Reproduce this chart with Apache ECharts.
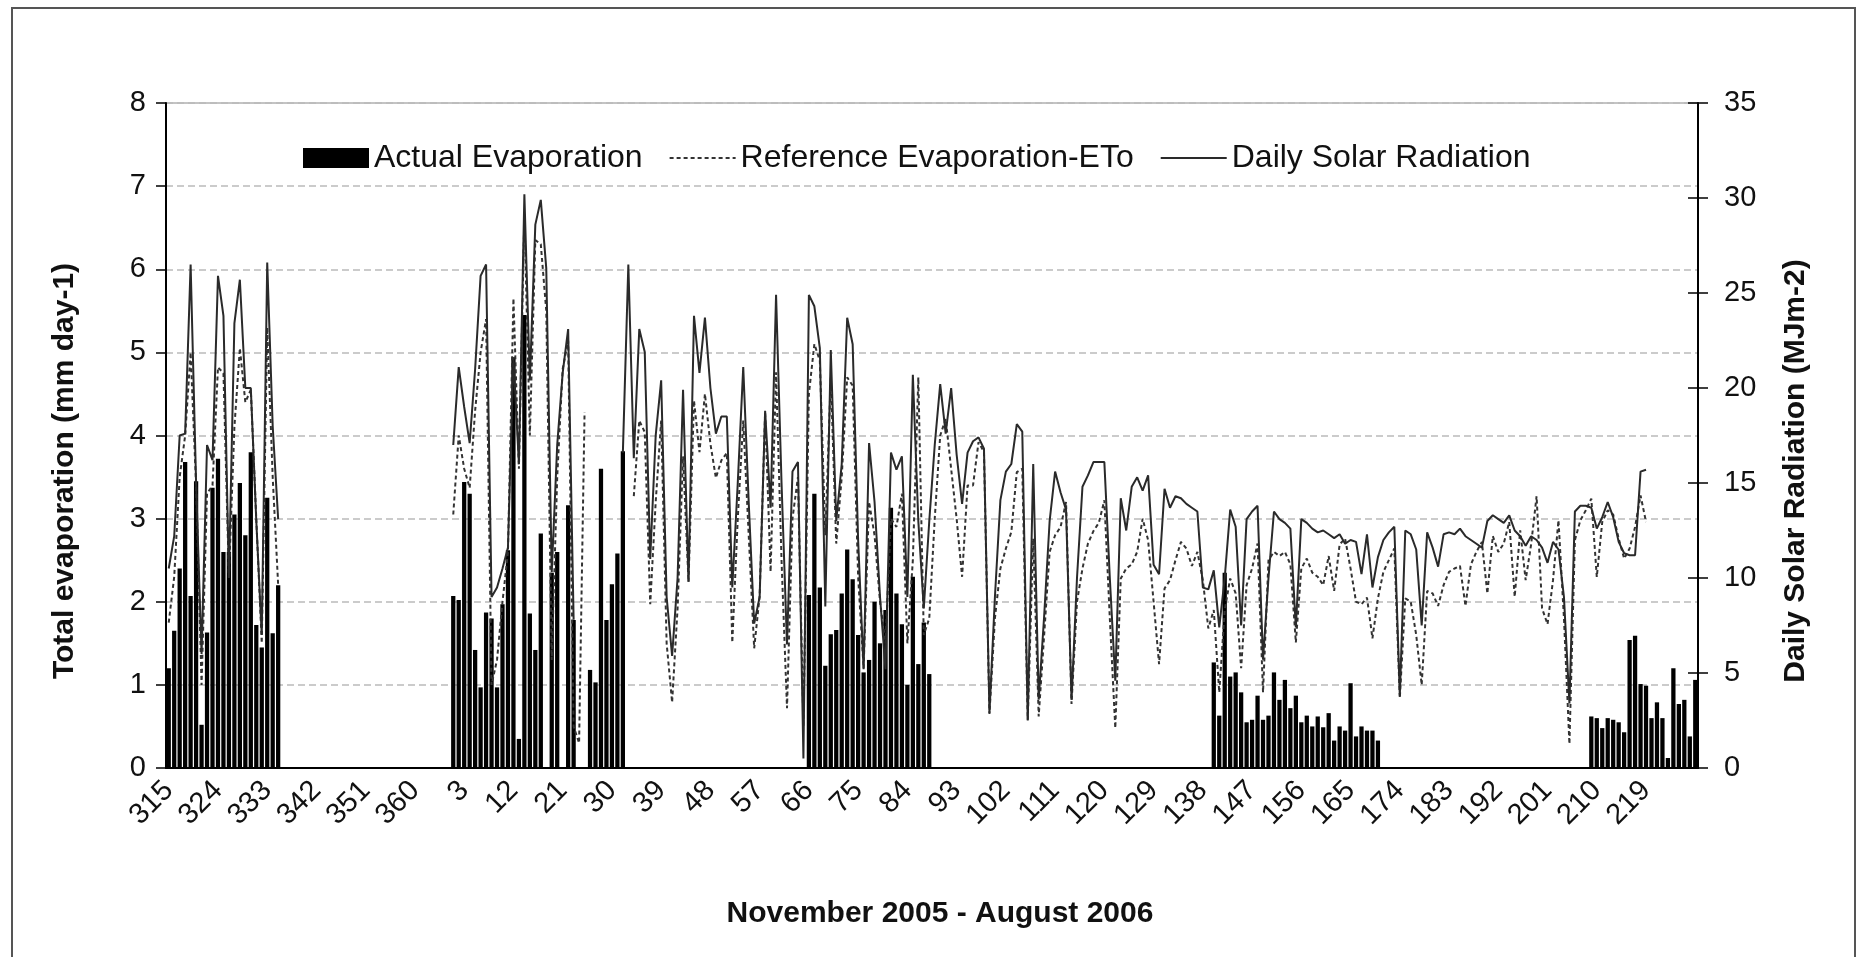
<!DOCTYPE html>
<html>
<head>
<meta charset="utf-8">
<title>Evaporation and solar radiation, Nov 2005 - Aug 2006</title>
<script src="https://cdn.jsdelivr.net/npm/echarts@6/dist/echarts.min.js"></script>
<style>
  html, body { margin: 0; padding: 0; background: #fff; }
  #chart { width: 1862px; height: 957px; }
</style>
</head>
<body>
<div id="chart"></div>
<script>
// day-of-year categories: 2005 days 315-365, then 2006 days 0-228
const firstDay2005 = 315, lastDay2005 = 365, lastDay2006 = 228;
const categories = [];
for (let d = firstDay2005; d <= lastDay2005; d++) categories.push(String(d));
for (let d = 0; d <= lastDay2006; d++) categories.push(String(d));

const evapTicks = { min: 0, max: 8, step: 1 };
const solarTicks = { min: 0, max: 35, step: 5 };

// actual evaporation (mm/day), runs of consecutive days, named by first day
const actualFrom315 = [1.2, 1.65, 2.4, 3.68, 2.07, 3.45, 0.52, 1.63, 3.37, 3.72, 2.6, 2.6, 3.05, 3.43, 2.8, 3.8, 1.72, 1.45, 3.25, 1.62, 2.2];
const actualFrom1 = [2.07, 2.02, 3.44, 3.3, 1.42, 0.97, 1.87, 1.8, 0.97, 1.97, 2.62, 4.94, 0.35, 5.45, 1.86, 1.42, 2.82];
const actualFrom19 = [2.35, 2.6];
const actualFrom22 = [3.16, 1.78];
const actualFrom26 = [1.18, 1.03, 3.6, 1.78, 2.21, 2.58, 3.81];
const actualFrom66 = [2.08, 3.3, 2.17, 1.23, 1.61, 1.66, 2.1, 2.63, 2.27, 1.6, 1.15, 1.3, 2.0, 1.5, 1.9, 3.13, 2.1, 1.73, 1.0, 2.3, 1.25, 1.75, 1.13];
const actualFrom140 = [1.27, 0.63, 2.35, 1.1, 1.15, 0.91, 0.55, 0.58, 0.87, 0.58, 0.63, 1.15, 0.82, 1.06, 0.72, 0.87, 0.55, 0.63, 0.5, 0.62,
  0.49, 0.66, 0.33, 0.5, 0.45, 1.02, 0.38, 0.5, 0.45, 0.45, 0.33];
const actualFrom209 = [0.62, 0.6, 0.48, 0.6, 0.58, 0.55, 0.43, 1.54, 1.59, 1.01, 0.99, 0.6, 0.79, 0.6, 0.12, 1.2, 0.77, 0.82, 0.38, 1.06];

// reference evaporation ETo (mm/day)
const etoFrom315 = [1.75, 2.3, 3.5, 4.0, 5.0, 3.4, 1.0, 3.3, 3.4, 4.82, 4.75, 2.3, 4.1, 5.05, 4.4, 4.55, 3.0, 1.5, 5.3, 3.5, 2.2];
const etoFrom1 = [3.05, 4.0, 3.6, 3.37, 4.3, 5.0, 5.4, 1.0, 1.3, 2.0, 2.6, 5.65, 3.6, 6.66, 4.0, 6.35, 6.3, 5.5, 1.3, 3.5,
  4.8, 5.14, 0.5, 0.3, 4.28];
const etoFrom34 = [
  3.27, 4.18, 4.04, 1.97, 3.2, 4.18, 1.5, 0.79, 1.92, 3.75,
  2.24, 4.42, 3.8, 4.5, 3.9, 3.49, 3.7, 3.79, 1.51, 3.0,
  4.18, 2.8, 1.44, 2.07, 4.28, 2.36, 4.76, 2.5, 0.72, 3.0,
  3.5, 0.5, 4.5, 5.1, 4.9, 2.8, 4.7, 2.7, 3.5, 4.7,
  4.6, 2.3, 1.2, 3.2, 2.8, 2.0, 1.5, 3.0, 2.9, 3.3,
  1.5, 2.5, 4.7, 1.6, 1.8, 3.0, 4.0, 4.2, 3.6, 3.0,
  2.3, 3.4, 3.4, 3.92, 3.8, 0.65, 1.8, 2.4, 2.64, 2.84,
  3.56, 3.6, 0.58, 2.76, 0.62, 1.6, 2.6, 2.8, 2.9, 3.2,
  0.77, 2.0, 2.4, 2.7, 2.85, 2.95, 3.22, 1.8, 0.48, 2.28,
  2.4, 2.45, 2.6, 3.0, 2.74, 2.0, 1.25, 2.16, 2.26, 2.5,
  2.72, 2.64, 2.43, 2.6, 2.26, 1.68, 1.9, 0.91, 1.9, 2.28,
  2.1, 1.2, 2.2, 2.4, 2.7, 0.91, 2.5, 2.6, 2.55, 2.6,
  2.45, 1.51, 2.4, 2.52, 2.35, 2.3, 2.2, 2.55, 2.13, 2.69,
  2.76, 2.4, 2.0, 1.97, 2.05, 1.56, 2.04, 2.36, 2.5, 2.64,
  0.84, 2.04, 2.0, 1.6, 1.0, 2.13, 2.1, 1.95, 2.2, 2.36,
  2.4, 2.43, 1.95, 2.45, 2.6, 2.72, 2.1, 2.79, 2.6, 2.7,
  2.96, 2.06, 2.86, 2.26, 2.69, 3.27, 1.92, 1.73, 2.26, 2.98,
  1.8, 0.29, 2.74, 2.98, 3.1, 3.24, 2.3, 2.96, 3.1, 3.05,
  2.76, 2.52, 2.64, 2.9, 3.28, 2.96
];

// daily solar radiation (MJ m-2)
const solarFrom315 = [10.5, 12.2, 17.5, 17.6, 26.5, 15, 6, 17, 16.2, 25.9, 23.8, 10, 23.4, 25.7, 20, 20, 13, 7, 26.6, 18, 13.1];
const solarFrom1 = [17, 21.1, 19, 17.1, 21, 25.9, 26.5, 9, 9.5, 10.5, 11.6, 21.6, 16, 30.2, 20.4, 28.6, 29.9, 26.3, 10.3, 17,
  20.8, 23.1, 7.8];
const solarFrom32 = [
  16.6, 26.5, 16.3, 23.1, 21.9, 11, 17.5, 20.4, 9, 5.9,
  10, 19.9, 9.8, 23.8, 20.8, 23.7, 20, 17.6, 18.5, 18.5,
  9.5, 15, 21.1, 14, 7.6, 9.0, 18.8, 13.7, 24.9, 15,
  6.5, 15.6, 16.1, 0.5, 24.9, 24.3, 22.1, 8.5, 22, 13,
  16, 23.7, 22.3, 12, 5.2, 17.1, 14, 9, 5.2, 16.6,
  15.7, 16.4, 9, 20.7, 13, 8.4, 13, 17, 20.2, 17.6,
  20, 16.5, 13.9, 16.6, 17.2, 17.4, 16.8, 2.9, 9, 14.1,
  15.6, 16, 18.1, 17.7, 2.5, 16, 3.6, 8, 13, 15.6,
  14.5, 13.6, 3.6, 10, 14.8, 15.4, 16.1, 16.1, 16.1, 10,
  4.6, 14.2, 12.5, 14.8, 15.3, 14.6, 15.4, 10.7, 10.2, 14.7,
  13.7, 14.3, 14.2, 13.9, 13.7, 13.5, 9.5, 9.4, 10.4, 7.4,
  10, 13.6, 12.7, 7.5, 13.1, 13.5, 13.8, 5.7, 10, 13.5,
  13.1, 12.9, 12.6, 7.4, 13.1, 12.9, 12.6, 12.4, 12.5, 12.3,
  12.1, 12.3, 11.8, 12, 11.9, 10.2, 12.3, 9.5, 11.1, 12,
  12.4, 12.7, 3.8, 12.5, 12.3, 11.5, 7.5, 12.4, 11.6, 10.6,
  12.3, 12.4, 12.3, 12.6, 12.2, 12, 11.8, 11.6, 13, 13.3,
  13.1, 12.9, 13.3, 12.5, 12.2, 11.7, 12.2, 12.0, 11.6, 10.8,
  11.9, 11.5, 9, 3.4, 13.5, 13.8, 13.8, 13.7, 12.6, 13.2,
  14.0, 13.2, 11.9, 11.3, 11.2, 11.2, 15.6, 15.7
];

// spread runs over the category axis, leaving gaps (null) between them
function placeRuns(runs) {
  const out = new Array(categories.length).fill(null);
  runs.forEach(([startDay, values]) => {
    const start = categories.indexOf(String(startDay));
    values.forEach((v, k) => { out[start + k] = v; });
  });
  return out;
}

const actualSeries = placeRuns([[315, actualFrom315], [1, actualFrom1], [19, actualFrom19], [22, actualFrom22],
  [26, actualFrom26], [66, actualFrom66], [140, actualFrom140], [209, actualFrom209]]);
const etoSeries = placeRuns([[315, etoFrom315], [1, etoFrom1], [34, etoFrom34]]);
const solarSeries = placeRuns([[315, solarFrom315], [1, solarFrom1], [32, solarFrom32]]);

const FONT = '"Liberation Sans", Arial, sans-serif';
const INK = '#111';

const chart = echarts.init(document.getElementById('chart'));
chart.setOption({
  animation: false,
  backgroundColor: '#fff',
  textStyle: { fontFamily: FONT },
  grid: {
    left: 166, right: 164, top: 103, bottom: 189,
    show: true, borderColor: '#888', borderWidth: 1,
    outerBoundsMode: 'none',
  },
  legend: {
    left: 298, top: 137,
    itemWidth: 66, itemHeight: 20, itemGap: 26,
    textStyle: { fontSize: 32, color: INK, fontFamily: FONT },
    data: [
      { name: 'Actual Evaporation', icon: 'rect' },
      { name: 'Reference Evaporation-ETo', itemStyle: { opacity: 0 } },
      { name: 'Daily Solar Radiation', itemStyle: { opacity: 0 } },
    ],
  },
  xAxis: {
    type: 'category',
    data: categories,
    axisLine: { lineStyle: { color: '#000', width: 2 } },
    axisTick: { interval: 0, length: 10, lineStyle: { color: '#000', width: 1 } },
    axisLabel: {
      interval: 8, rotate: 45, margin: 18, fontSize: 29, color: INK, fontFamily: FONT,
      showMaxLabel: false,
    },
    splitLine: { show: false },
  },
  yAxis: [
    {
      type: 'value', position: 'left',
      min: evapTicks.min, max: evapTicks.max, interval: evapTicks.step,
      axisLine: { show: true, lineStyle: { color: '#000', width: 2 } },
      axisTick: { show: true, length: 10, lineStyle: { color: '#000', width: 1.5 } },
      axisLabel: { margin: 20, fontSize: 29, color: INK, fontFamily: FONT },
      splitLine: { show: true, lineStyle: { color: '#bbb', width: 1.5, type: [7, 4] } },
    },
    {
      type: 'value', position: 'right',
      min: solarTicks.min, max: solarTicks.max, interval: solarTicks.step,
      axisLine: { show: true, lineStyle: { color: '#000', width: 2 } },
      axisTick: { show: true, length: 10, lineStyle: { color: '#000', width: 1.5 } },
      axisLabel: { margin: 26, fontSize: 29, color: INK, fontFamily: FONT },
      splitLine: { show: false },
    },
    {
      // inner half of the cross ticks on the right axis
      type: 'value', position: 'right',
      min: solarTicks.min, max: solarTicks.max, interval: solarTicks.step,
      axisLine: { show: false },
      axisTick: { show: true, inside: true, length: 10, lineStyle: { color: '#000', width: 1.5 } },
      axisLabel: { show: false },
      splitLine: { show: false },
    },
  ],
  series: [
    {
      name: 'Actual Evaporation',
      type: 'bar',
      yAxisIndex: 0,
      data: actualSeries,
      barCategoryGap: '22%',
      itemStyle: { color: '#000' },
    },
    {
      name: 'Reference Evaporation-ETo',
      type: 'line',
      yAxisIndex: 0,
      data: etoSeries,
      symbol: 'none',
      connectNulls: false,
      lineStyle: { color: '#333', width: 2, type: [4, 3] },
      itemStyle: { color: '#333' },
    },
    {
      name: 'Daily Solar Radiation',
      type: 'line',
      yAxisIndex: 1,
      data: solarSeries,
      symbol: 'none',
      connectNulls: false,
      lineStyle: { color: '#2a2a2a', width: 2 },
      itemStyle: { color: '#2a2a2a' },
    },
  ],
  graphic: [
    {
      type: 'rect', silent: true, z: 100,
      shape: { x: 12, y: 8, width: 1843, height: 990 },
      style: { fill: 'none', stroke: '#555', lineWidth: 2 },
    },
    {
      type: 'text', x: 65, y: 471, rotation: Math.PI / 2,
      style: { text: 'Total evaporation (mm day-1)', font: 'bold 30px ' + FONT, fill: INK, align: 'center', verticalAlign: 'middle' },
    },
    {
      type: 'text', x: 1796, y: 471, rotation: Math.PI / 2,
      style: { text: 'Daily Solar Radiation (MJm-2)', font: 'bold 30px ' + FONT, fill: INK, align: 'center', verticalAlign: 'middle' },
    },
    {
      type: 'text', x: 940, y: 914,
      style: { text: 'November 2005 - August 2006', font: 'bold 30px ' + FONT, fill: INK, align: 'center', verticalAlign: 'middle' },
    },
  ],
});
</script>
</body>
</html>
